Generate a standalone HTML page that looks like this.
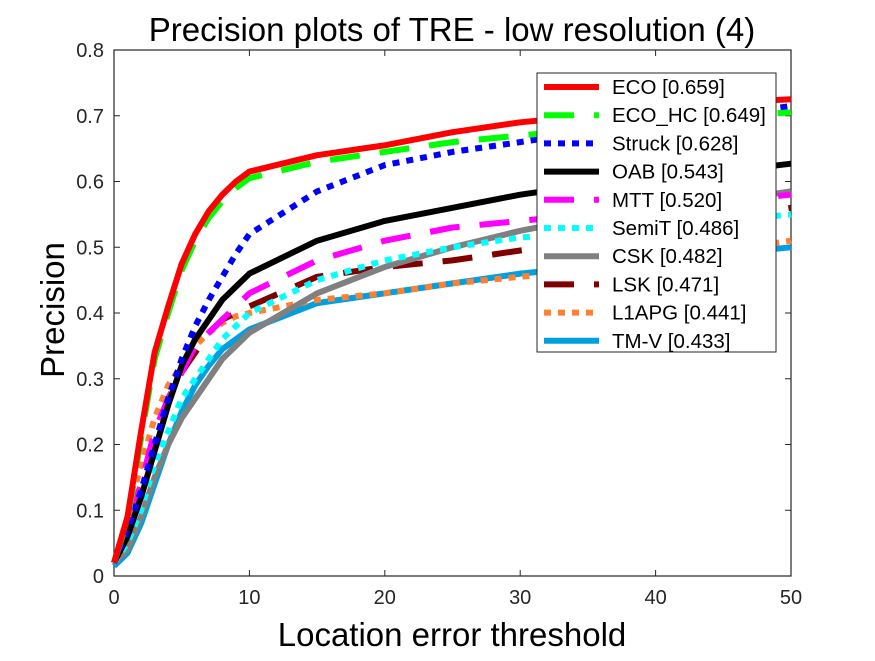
<!DOCTYPE html>
<html><head><meta charset="utf-8"><style>
body{margin:0;background:#fff;width:875px;height:656px;overflow:hidden}
svg{font-family:"Liberation Sans",sans-serif}
</style></head><body>
<svg id="chart" width="875" height="656" xmlns="http://www.w3.org/2000/svg">
<rect x="0" y="0" width="875" height="656" fill="#fff"/>
<text x="452" y="41" font-size="33" text-anchor="middle">Precision plots of TRE - low resolution (4)</text>
<g id="axes"></g>
<g id="series"></g>
<g id="legend"></g>
<text x="452" y="646" font-size="33" text-anchor="middle">Location error threshold</text>
<text transform="translate(64,310) rotate(-90)" font-size="33" text-anchor="middle">Precision</text>
</svg>
<script>
const thresholds=[0,1,2,3,4,5,6,7,8,9,10,15,20,25,30,35,40,45,50];
const names=["ECO [0.659]","ECO_HC [0.649]","Struck [0.628]","OAB [0.543]","MTT [0.520]","SemiT [0.486]","CSK [0.482]","LSK [0.471]","L1APG [0.441]","TM-V [0.433]"];
const eco=[0.02,0.09,0.22,0.34,0.41,0.475,0.52,0.555,0.58,0.60,0.615,0.64,0.655,0.675,0.69,0.70,0.71,0.72,0.725];
const ecoHc=[0.02,0.085,0.21,0.33,0.40,0.465,0.51,0.545,0.57,0.59,0.605,0.63,0.645,0.66,0.67,0.68,0.69,0.70,0.705];
const struck=[0.02,0.07,0.13,0.2,0.27,0.33,0.38,0.42,0.455,0.49,0.52,0.585,0.625,0.645,0.66,0.675,0.69,0.70,0.715];
const oab=[0.02,0.06,0.12,0.19,0.26,0.32,0.36,0.39,0.42,0.44,0.46,0.51,0.54,0.56,0.58,0.595,0.605,0.615,0.627];
const mtt=[0.02,0.07,0.14,0.22,0.27,0.31,0.35,0.37,0.39,0.41,0.43,0.48,0.51,0.53,0.54,0.55,0.56,0.57,0.58];
const semit=[0.02,0.05,0.1,0.17,0.22,0.27,0.30,0.33,0.36,0.38,0.40,0.45,0.48,0.50,0.515,0.52,0.53,0.54,0.55];
const csk=[0.02,0.04,0.09,0.15,0.2,0.24,0.27,0.30,0.33,0.35,0.37,0.43,0.47,0.50,0.525,0.545,0.56,0.57,0.585];
const lsk=[0.02,0.07,0.14,0.21,0.27,0.31,0.34,0.37,0.39,0.40,0.41,0.455,0.47,0.48,0.495,0.51,0.53,0.545,0.56];
const l1apg=[0.02,0.09,0.17,0.24,0.29,0.32,0.35,0.37,0.385,0.395,0.40,0.42,0.43,0.445,0.455,0.465,0.48,0.495,0.51];
const tmv=[0.015,0.035,0.08,0.14,0.2,0.25,0.29,0.32,0.345,0.36,0.375,0.415,0.43,0.445,0.46,0.47,0.48,0.49,0.50];
const xTicks=[0,10,20,30,40,50];
const yTicks=[0,0.1,0.2,0.3,0.4,0.5,0.6,0.7,0.8];
const allSeries=[eco,ecoHc,struck,oab,mtt,semit,csk,lsk,l1apg,tmv];
const colors=["#ff0000","#00ff00","#0000ff","#000000","#ff00ff","#00ffff","#808080","#800000","#ff8030","#00a0e0"];
const dashes=["","30,20","7,7","","30,20","7,7","","30,20","7,7",""];
const L=114,R=791,T=50,B=576;
const sx=v=>L+(v/50)*(R-L);
const sy=v=>B-(v/0.8)*(B-T);
const NS="http://www.w3.org/2000/svg";
function mk(tag,attrs,parent){const e=document.createElementNS(NS,tag);for(const k in attrs)e.setAttribute(k,attrs[k]);parent.appendChild(e);return e;}
const axes=document.getElementById('axes');
const frame=mk('rect',{x:L,y:T,width:R-L,height:B-T,fill:'none',stroke:'#262626','stroke-width':1.2},axes);


xTicks.forEach(t=>{
  const x=sx(t);
  mk('line',{x1:x,x2:x,y1:B,y2:B-6,stroke:'#262626'},axes);
  mk('line',{x1:x,x2:x,y1:T,y2:T+6,stroke:'#262626'},axes);
  const tx=mk('text',{x:x,y:B+28,'font-size':20,'text-anchor':'middle',fill:'#262626'},axes);
  tx.textContent=t;
  
  
});
yTicks.forEach(t=>{
  const y=sy(t);
  mk('line',{x1:L,x2:L+6,y1:y,y2:y,stroke:'#262626'},axes);
  mk('line',{x1:R,x2:R-6,y1:y,y2:y,stroke:'#262626'},axes);
  const tx=mk('text',{x:L-10,y:y+7,'font-size':20,'text-anchor':'end',fill:'#262626'},axes);
  tx.textContent=t===0?'0':t.toFixed(1);
  
  
});
const sg=document.getElementById('series');
for(let i=allSeries.length-1;i>=0;i--){
  const d=allSeries[i].map((v,j)=>(j?'L':'M')+sx(thresholds[j]).toFixed(1)+','+sy(v).toFixed(1)).join('');
  const p=mk('path',{d:d,fill:'none',stroke:colors[i],'stroke-width':6,'stroke-linejoin':'round'},sg);
  if(dashes[i])p.setAttribute('stroke-dasharray',dashes[i]);
  
  
}
const lg=document.getElementById('legend');
const box=mk('rect',{x:537,y:73,width:239,height:279,fill:'#fff',stroke:'#262626','stroke-width':1},lg);


names.forEach((n,i)=>{
  const y=87+i*28.2;
  const ln=mk('line',{x1:544,x2:599,y1:y,y2:y,stroke:colors[i],'stroke-width':6},lg);
  if(dashes[i])ln.setAttribute('stroke-dasharray',dashes[i]);
  
  
  const tx=mk('text',{x:612,y:y+7,'font-size':20.5,fill:'#000'},lg);
  tx.textContent=n;
  
  
});
</script>
</body></html>
